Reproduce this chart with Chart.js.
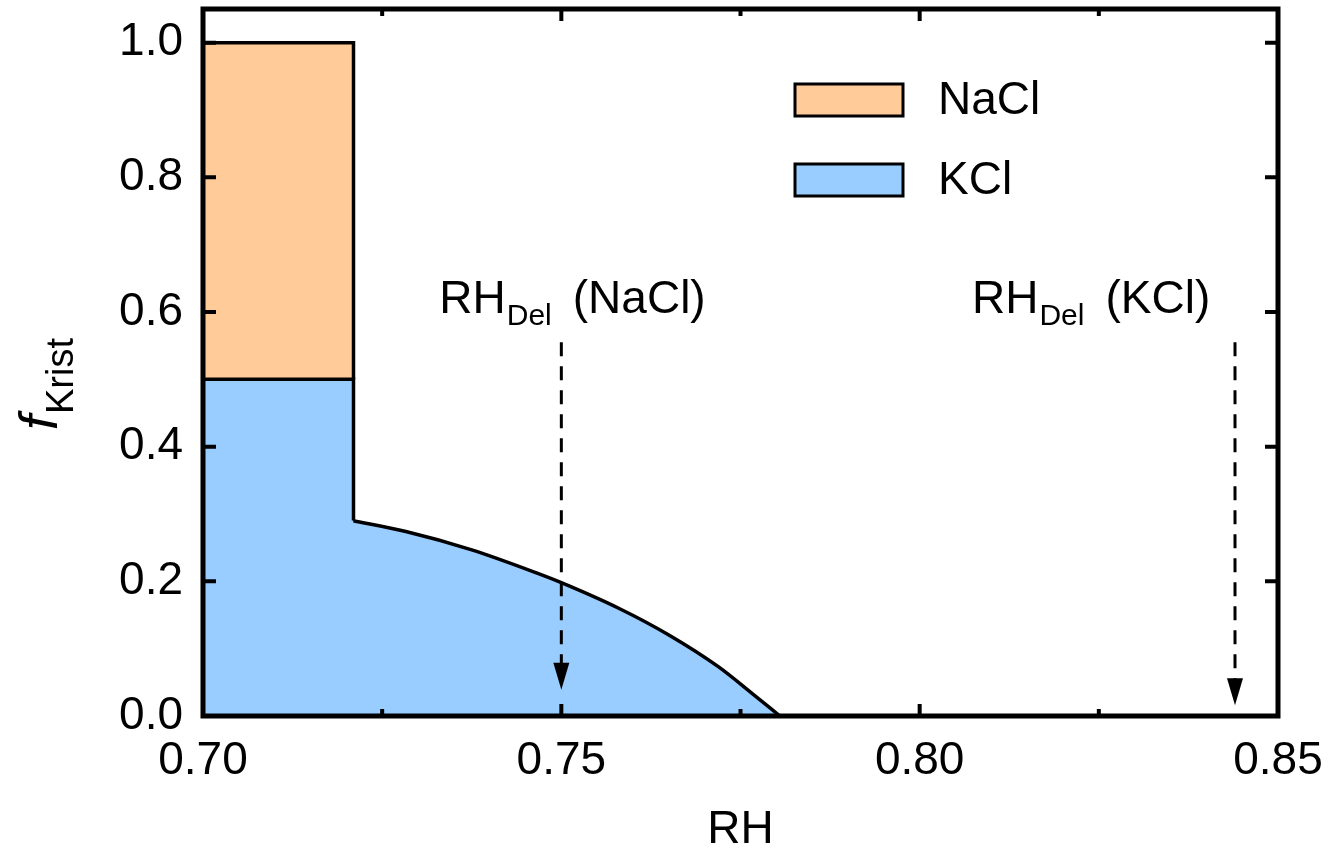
<!DOCTYPE html>
<html lang="de">
<head>
<meta charset="UTF-8">
<title>f Krist vs RH</title>
<script src="https://cdn.jsdelivr.net/npm/chart.js"></script>
<style>
  body { margin: 0; background: #fff; }
  #wrap { width: 1332px; height: 848px; }
</style>
</head>
<body>
<div id="wrap"><canvas id="grafico" width="1332" height="848"></canvas></div>
<script>
// data
const xTicks = [0.70, 0.75, 0.80, 0.85];
const xMinorTicks = [0.725, 0.775, 0.825];
const yTicks = [0.0, 0.2, 0.4, 0.6, 0.8, 1.0];

const naclRH = [0.70, 0.721, 0.721];
const naclF  = [1.0, 1.0, 0.5];

// KCl: step part and the curved part
const kclStepRH = [0.70, 0.721, 0.721];
const kclStepF  = [0.5, 0.5, 0.2903];
const kclCurveRH = [0.7208, 0.7283, 0.7375, 0.7468, 0.7500, 0.7580, 0.7650, 0.7719, 0.7766, 0.7805];
const kclCurveF  = [0.2903, 0.2740, 0.2468, 0.2115, 0.1981, 0.1601, 0.1204, 0.0733, 0.0337, 0.0];

const delRH = [0.75, 0.844];
const delNames = ['NaCl', 'KCl'];

const FONT = '"Liberation Sans", Arial, sans-serif';
const NACL_COLOR = '#FFCC99';
const KCL_COLOR = '#99CCFF';

function pts(xs, ys) {
    return xs.map((x, i) => ({ x: x, y: ys[i] }));
}

function noPad(s) {
    s.paddingTop = 0; s.paddingBottom = 0; s.paddingLeft = 0; s.paddingRight = 0;
}

// frame, inward ticks, arrows, labels, legend
const extras = {
    id: 'extras',
    afterDatasetsDraw(chart) {
        const ctx = chart.ctx;
        const a = chart.chartArea;
        const sx = chart.scales.x, sy = chart.scales.y;
        ctx.save();
        ctx.fillStyle = '#000';
        ctx.strokeStyle = '#000';

        // ticks
        ctx.lineWidth = 4;
        ctx.beginPath();
        xTicks.forEach(v => {
            const p = sx.getPixelForValue(v);
            ctx.moveTo(p, a.bottom); ctx.lineTo(p, a.bottom - 12);
            ctx.moveTo(p, a.top); ctx.lineTo(p, a.top + 12);
        });
        xMinorTicks.forEach(v => {
            const p = sx.getPixelForValue(v);
            ctx.moveTo(p, a.bottom); ctx.lineTo(p, a.bottom - 7);
            ctx.moveTo(p, a.top); ctx.lineTo(p, a.top + 7);
        });
        yTicks.forEach(v => {
            const p = sy.getPixelForValue(v);
            ctx.moveTo(a.left, p); ctx.lineTo(a.left + 13, p);
            ctx.moveTo(a.right, p); ctx.lineTo(a.right - 13, p);
        });
        ctx.stroke();

        // frame
        ctx.lineWidth = 5;
        ctx.strokeRect(a.left, a.top, a.right - a.left, a.bottom - a.top);

        // arrows RH_Del
        const tipF = [0.039, 0.016];
        delRH.forEach((v, i) => {
            const px = sx.getPixelForValue(v);
            const top = sy.getPixelForValue(0.555);
            const tip = sy.getPixelForValue(tipF[i]);
            ctx.lineWidth = 3;
            ctx.setLineDash([14, 10]);
            ctx.beginPath();
            ctx.moveTo(px, top); ctx.lineTo(px, tip - 24);
            ctx.stroke();
            ctx.setLineDash([]);
            ctx.beginPath();
            ctx.moveTo(px - 8, tip - 27);
            ctx.lineTo(px + 8, tip - 27);
            ctx.lineTo(px, tip);
            ctx.closePath();
            ctx.fill();
        });

        // labels RH_Del (...)
        const labelLeft = [-122, -263];
        ctx.textBaseline = 'alphabetic';
        ctx.textAlign = 'left';
        delRH.forEach((v, i) => {
            let x = sx.getPixelForValue(v) + labelLeft[i];
            const base = 313;
            ctx.font = '46px ' + FONT;
            ctx.fillText('RH', x, base);
            x += ctx.measureText('RH').width + 1;
            ctx.font = '30px ' + FONT;
            ctx.fillText('Del', x, base + 12);
            x += ctx.measureText('Del').width + 21;
            ctx.font = '46px ' + FONT;
            ctx.fillText('(' + delNames[i] + ')', x, base);
        });

        // legend
        const legendItems = [['NaCl', NACL_COLOR, 100], ['KCl', KCL_COLOR, 180]];
        legendItems.forEach(it => {
            const cy = it[2];
            ctx.fillStyle = it[1];
            ctx.fillRect(795, cy - 16, 108, 32);
            ctx.lineWidth = 3;
            ctx.strokeRect(795, cy - 16, 108, 32);
            ctx.fillStyle = '#000';
            ctx.font = '46px ' + FONT;
            ctx.textBaseline = 'middle';
            ctx.fillText(it[0], 938, cy + 1);
        });

        // axis titles
        ctx.textBaseline = 'alphabetic';
        ctx.textAlign = 'center';
        ctx.font = '46px ' + FONT;
        ctx.fillText('RH', (a.left + a.right) / 2, 843);

        ctx.translate(57, 430);
        ctx.rotate(-Math.PI / 2);
        ctx.textAlign = 'left';
        ctx.font = 'italic 54px ' + FONT;
        ctx.fillText('f', 0, 0);
        const fw = ctx.measureText('f').width;
        ctx.font = '38px ' + FONT;
        ctx.fillText('Krist', fw + 1, 16);
        ctx.restore();
    }
};

const ctx = document.getElementById('grafico').getContext('2d');
const grafico = new Chart(ctx, {
    type: 'line',
    data: {
        datasets: [{
            label: 'NaCl',
            data: pts(naclRH, naclF),
            backgroundColor: NACL_COLOR,
            borderColor: '#000',
            borderWidth: 3.5,
            pointRadius: 0,
            tension: 0,
            order: 1,
            fill: { value: 0.5 }
        }, {
            label: 'KCl',
            data: pts(kclStepRH, kclStepF),
            backgroundColor: KCL_COLOR,
            borderColor: '#000',
            borderWidth: 3.5,
            pointRadius: 0,
            tension: 0,
            order: 0,
            fill: 'origin'
        }, {
            label: 'KCl curve',
            data: pts(kclCurveRH, kclCurveF),
            backgroundColor: KCL_COLOR,
            borderColor: '#000',
            borderWidth: 3.5,
            pointRadius: 0,
            cubicInterpolationMode: 'monotone',
            order: 0,
            fill: 'origin'
        }]
    },
    options: {
        responsive: false,
        animation: false,
        devicePixelRatio: 1,
        layout: { padding: { top: 9, right: 54, left: 0, bottom: 0 } },
        plugins: {
            legend: { display: false },
            tooltip: { enabled: false }
        },
        scales: {
            x: {
                type: 'linear',
                min: 0.70,
                max: 0.85,
                grid: { display: false, drawTicks: false },
                border: { display: false },
                afterBuildTicks: s => { s.ticks = xTicks.map(v => ({ value: v })); },
                afterFit: s => { s.height = 132; noPad(s); },
                ticks: {
                    color: '#000',
                    padding: 18,
                    maxRotation: 0,
                    font: { family: FONT, size: 46 },
                    callback: v => v.toFixed(2)
                }
            },
            y: {
                type: 'linear',
                min: 0,
                max: 1.05,
                grid: { display: false, drawTicks: false },
                border: { display: false },
                afterBuildTicks: s => { s.ticks = yTicks.map(v => ({ value: v })); },
                afterFit: s => { s.width = 203; noPad(s); },
                ticks: {
                    color: '#000',
                    padding: 20,
                    font: { family: FONT, size: 46 },
                    callback: v => v.toFixed(1)
                }
            }
        }
    },
    plugins: [extras]
});
</script>
</body>
</html>
